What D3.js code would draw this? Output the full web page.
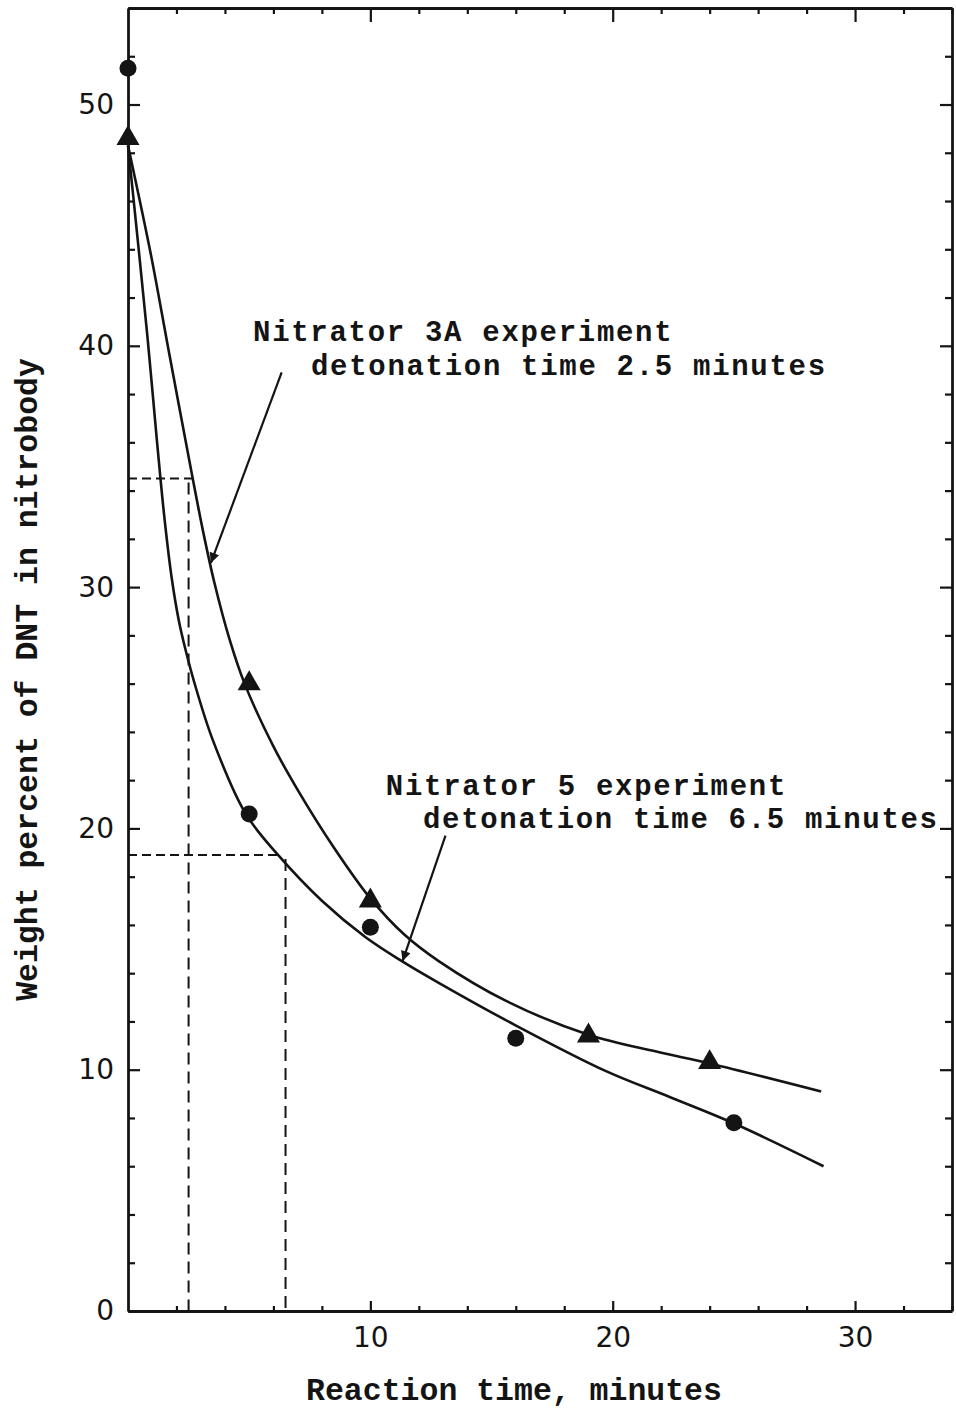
<!DOCTYPE html>
<html><head><meta charset="utf-8">
<script src="https://cdn.jsdelivr.net/npm/d3@7"></script>
<style>html,body{margin:0;padding:0;background:#fff;} svg{display:block}</style>
</head><body>
<svg id="chart" width="956" height="1411"></svg>
<script>
// ---------- data ----------
const xTickValues = [10, 20, 30];
const xTickLabels = ["10", "20", "30"];
const yTickValues = [0, 10, 20, 30, 40, 50];
const yTickLabels = ["0", "10", "20", "30", "40", "50"];
const xTitle = "Reaction time, minutes";
const yTitle = "Weight percent of DNT in nitrobody";

// measured points: Nitrator 5 (circles), Nitrator 3A (triangles)
const circleTime = [0, 5, 10, 16, 25];
const circleDNT = [51.5, 20.6, 15.9, 11.3, 7.8];
const triangleTime = [0, 5, 10, 19, 24];
const triangleDNT = [48.6, 26.0, 17.0, 11.4, 10.3];

// fitted curves
const curve3ATime = [0, 0.94, 1.66, 2.67, 3.1, 3.56, 4.2, 4.81, 6.0, 7.0, 8.5, 10.0, 11.4, 12.82, 15.6, 19.0, 21.8, 24.05, 28.6];
const curve3ADNT  = [48.3, 43.8, 39.9, 34.5, 32.3, 30.2, 27.8, 26.0, 23.4, 21.6, 19.2, 17.1, 15.6, 14.5, 12.85, 11.45, 10.75, 10.25, 9.1];
const curve5Time = [0, 0.4, 0.8, 1.2, 1.5, 1.8, 2.1, 2.4, 2.75, 3.5, 4.86, 6.19, 8.0, 9.79, 11.3, 12.82, 15.97, 19.7, 22.4, 25.06, 28.7];
const curve5DNT  = [48.3, 44.4, 40.4, 36.0, 32.9, 30.4, 28.6, 27.3, 26.0, 23.66, 20.6, 18.9, 17.0, 15.5, 14.5, 13.6, 11.85, 9.95, 8.85, 7.75, 6.0];

// dashed guide lines (detonation times)
const guideDNT = [34.5, 18.9];
const guideHorizEnd = [2.67, 6.25];
const guideTime = [2.5, 6.5];

// annotations
const annoLines = [
  ["Nitrator 3A experiment", "detonation time 2.5 minutes"],
  ["Nitrator 5 experiment", "detonation time 6.5 minutes"]
];
const annoLineTime = [[5.16, 7.55], [10.64, 12.17]];
const annoLineDNT = [[40.2, 38.8], [21.38, 20.0]];
const arrowFrom = [[6.34, 38.9], [13.1, 19.7]];
const arrowTo = [[3.42, 31.0], [11.33, 14.5]];

// ---------- drawing ----------
const svg = d3.select("#chart");
const ink = "#141414";
const x = d3.scaleLinear().domain([0, 34]).range([128, 952]);
const y = d3.scaleLinear().domain([0, 54]).range([1311, 8]);

const minorX = d3.range(0, 34.01, 2).filter(d => d % 10 !== 0);
const minorY = d3.range(0, 54.01, 2).filter(d => d % 10 !== 0);

function styleAxis(g, w) {
  g.selectAll("path.domain").attr("stroke", ink).attr("stroke-width", w);
  g.selectAll(".tick line").attr("stroke", ink).attr("stroke-width", 2.2);
}

// left axis
const gl = svg.append("g").attr("transform", `translate(${x(0)},0)`)
  .call(d3.axisLeft(y).tickValues(yTickValues).tickFormat((d, i) => yTickLabels[i])
    .tickSizeInner(-12).tickSizeOuter(0).tickPadding(14));
styleAxis(gl, 2.8);
gl.selectAll(".tick text").attr("font-family", "DejaVu Sans").attr("font-size", 28).attr("fill", ink);
const glm = svg.append("g").attr("transform", `translate(${x(0)},0)`)
  .call(d3.axisLeft(y).tickValues(minorY).tickFormat("").tickSizeInner(-7).tickSizeOuter(0));
glm.select("path.domain").remove(); styleAxis(glm, 2);

// right axis (ticks inward)
const gr = svg.append("g").attr("transform", `translate(${x(34)},0)`)
  .call(d3.axisLeft(y).tickValues(yTickValues.filter(d => d > 0)).tickFormat("").tickSizeInner(12).tickSizeOuter(0));
styleAxis(gr, 2.8);
const grm = svg.append("g").attr("transform", `translate(${x(34)},0)`)
  .call(d3.axisLeft(y).tickValues(minorY).tickFormat("").tickSizeInner(7).tickSizeOuter(0));
grm.select("path.domain").remove(); styleAxis(grm, 2);

// bottom axis
const gb = svg.append("g").attr("transform", `translate(0,${y(0)})`)
  .call(d3.axisBottom(x).tickValues(xTickValues).tickFormat((d, i) => xTickLabels[i])
    .tickSizeInner(-10).tickSizeOuter(0).tickPadding(16));
styleAxis(gb, 2.8);
gb.selectAll(".tick text").attr("font-family", "DejaVu Sans").attr("font-size", 28).attr("fill", ink);
const gbm = svg.append("g").attr("transform", `translate(0,${y(0)})`)
  .call(d3.axisBottom(x).tickValues(minorX).tickFormat("").tickSizeInner(-5).tickSizeOuter(0));
gbm.select("path.domain").remove(); styleAxis(gbm, 2);

// top axis (ticks inward)
const gt = svg.append("g").attr("transform", `translate(0,${y(54)})`)
  .call(d3.axisBottom(x).tickValues(xTickValues).tickFormat("").tickSizeInner(14).tickSizeOuter(0));
styleAxis(gt, 2.8);
const gtm = svg.append("g").attr("transform", `translate(0,${y(54)})`)
  .call(d3.axisBottom(x).tickValues(minorX).tickFormat("").tickSizeInner(6).tickSizeOuter(0));
gtm.select("path.domain").remove(); styleAxis(gtm, 2);

// axis titles
const monoFont = "'Liberation Mono', 'DejaVu Sans Mono', monospace";
svg.append("text").attr("x", 514).attr("y", 1400).attr("text-anchor", "middle")
  .attr("font-family", monoFont).attr("font-weight", "bold").attr("font-size", 31.5).attr("fill", ink)
  .text(xTitle);
svg.append("text").attr("transform", `translate(37,${(y(0) + y(54)) / 2 + 20}) rotate(-90)`)
  .attr("text-anchor", "middle")
  .attr("font-family", monoFont).attr("font-weight", "bold").attr("font-size", 31.5).attr("fill", ink)
  .text(yTitle);

// dashed guides
const guides = svg.append("g").attr("stroke", ink).attr("stroke-width", 2).attr("stroke-dasharray", "12,7").attr("fill", "none");
guideDNT.forEach((v, i) => {
  guides.append("line").attr("x1", x(0)).attr("x2", x(guideHorizEnd[i])).attr("y1", y(v)).attr("y2", y(v))
    .attr("stroke-dasharray", "9,5");
  guides.append("line").attr("x1", x(guideTime[i])).attr("x2", x(guideTime[i])).attr("y1", y(v) + 4).attr("y2", y(0));
});

// curves
const line = d3.line().x(d => x(d[0])).y(d => y(d[1])).curve(d3.curveCatmullRom.alpha(0.5));
svg.append("path").datum(curve3ATime.map((t, i) => [t, curve3ADNT[i]]))
  .attr("d", line).attr("fill", "none").attr("stroke", ink).attr("stroke-width", 2.6);
svg.append("path").datum(curve5Time.map((t, i) => [t, curve5DNT[i]]))
  .attr("d", line).attr("fill", "none").attr("stroke", ink).attr("stroke-width", 2.6);

// markers
svg.append("g").selectAll("circle").data(circleTime.map((t, i) => [t, circleDNT[i]]))
  .join("circle").attr("cx", d => x(d[0])).attr("cy", d => y(d[1])).attr("r", 8.5).attr("fill", ink);
svg.append("g").selectAll("path").data(triangleTime.map((t, i) => [t, triangleDNT[i]]))
  .join("path").attr("d", d3.symbol(d3.symbolTriangle, 230))
  .attr("transform", d => `translate(${x(d[0])},${y(d[1])})`).attr("fill", ink);

// arrows
const defs = svg.append("defs");
defs.append("marker").attr("id", "ah").attr("viewBox", "0 0 10 10").attr("refX", 10).attr("refY", 5)
  .attr("markerUnits", "userSpaceOnUse").attr("markerWidth", 18).attr("markerHeight", 10).attr("orient", "auto")
  .append("path").attr("d", "M0,0 L10,5 L0,10 Z").attr("fill", ink);
arrowFrom.forEach((f, i) => {
  svg.append("line").attr("x1", x(f[0])).attr("y1", y(f[1])).attr("x2", x(arrowTo[i][0])).attr("y2", y(arrowTo[i][1]))
    .attr("stroke", ink).attr("stroke-width", 2.2).attr("marker-end", "url(#ah)");
});

// annotation text
annoLines.forEach((lines, i) => {
  lines.forEach((s, j) => {
    svg.append("text").attr("x", x(annoLineTime[i][j])).attr("y", y(annoLineDNT[i][j]))
      .attr("font-family", monoFont).attr("font-weight", "bold").attr("font-size", 29)
      .attr("letter-spacing", 1.7).attr("fill", ink)
      .text(s);
  });
});
</script>
</body></html>
